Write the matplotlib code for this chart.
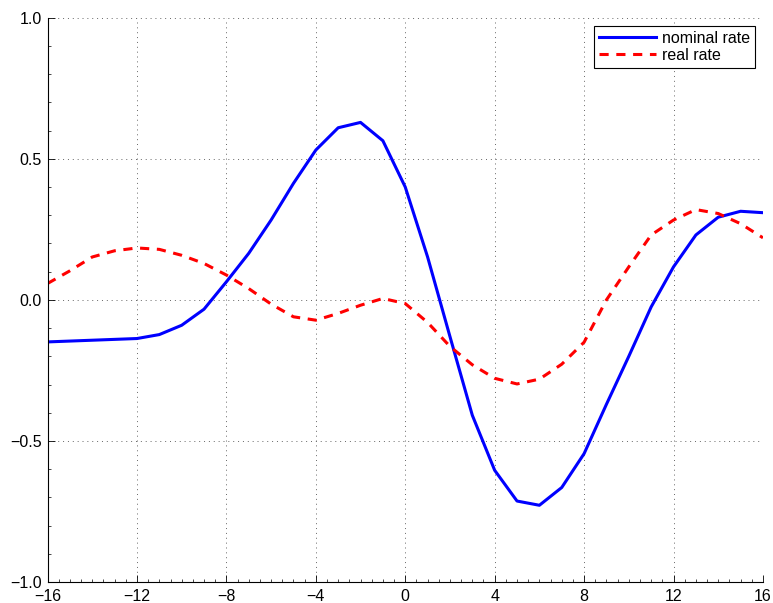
import matplotlib
matplotlib.use("Agg")
import matplotlib.pyplot as plt
from matplotlib.ticker import MultipleLocator

# ---------- Data ----------
horizon = list(range(-16, 17))
nominal_rate = [-0.149, -0.146, -0.143, -0.140, -0.137, -0.123, -0.090, -0.033,
                0.064, 0.165, 0.283, 0.413, 0.531, 0.610, 0.629, 0.564,
                0.400, 0.152, -0.130, -0.409, -0.604, -0.713, -0.728, -0.665,
                -0.545, -0.370, -0.200, -0.025, 0.117, 0.230, 0.293, 0.314, 0.309]
real_rate = [0.058, 0.103, 0.152, 0.174, 0.184, 0.179, 0.158, 0.129,
             0.088, 0.040, -0.015, -0.060, -0.072, -0.048, -0.019, 0.005,
             -0.013, -0.080, -0.165, -0.230, -0.278, -0.298, -0.281, -0.228,
             -0.150, 0.000, 0.117, 0.230, 0.283, 0.320, 0.306, 0.270, 0.220]
x_ticks = [-16, -12, -8, -4, 0, 4, 8, 12, 16]
y_ticks = [-1.0, -0.5, 0.0, 0.5, 1.0]

# ---------- Plot ----------
plt.rcParams['font.family'] = ['Liberation Sans', 'DejaVu Sans']
fig = plt.figure(figsize=(7.73, 6.03), dpi=100)
ax = fig.add_axes([0.0615, 0.0348, 0.9255, 0.9358])

ax.plot(horizon, nominal_rate, color='#0000ff', linewidth=2.2, label='nominal rate')
ax.plot(horizon, real_rate, color='#ff0000', linewidth=2.2, linestyle=(0, (3, 2.5)),
        label='real rate')

ax.set_xlim(-16, 16)
ax.set_ylim(-1, 1)
ax.set_xticks(x_ticks)
ax.set_xticklabels([f"{t}".replace('-', '\u2212') for t in x_ticks])
ax.set_yticks(y_ticks)
ax.set_yticklabels([f"{t:.1f}".replace('-', '\u2212') for t in y_ticks])
ax.xaxis.set_minor_locator(MultipleLocator(0.5))
ax.yaxis.set_minor_locator(MultipleLocator(0.1))

ax.tick_params(which='major', direction='in', length=5, width=0.6, labelsize=11.5,
               top=False, right=False)
ax.tick_params(which='minor', direction='in', length=2, width=0.5,
               top=False, right=False)
ax.tick_params(axis='x', pad=5)
ax.tick_params(axis='y', pad=4)

ax.spines['top'].set_visible(False)
ax.spines['right'].set_visible(False)
ax.spines['left'].set_linewidth(0.8)
ax.spines['bottom'].set_linewidth(0.8)

ax.grid(True, which='major', linestyle=(0, (1, 4)), color='#666666', linewidth=0.7)

leg = ax.legend(loc='upper right', fontsize=11.5, fancybox=False, framealpha=1,
                edgecolor='black', handlelength=3.6, borderaxespad=0.5,
                labelspacing=0.15, handletextpad=0.35, borderpad=0.3)
leg.get_frame().set_linewidth(0.8)

fig.savefig("out.png", dpi=100)
